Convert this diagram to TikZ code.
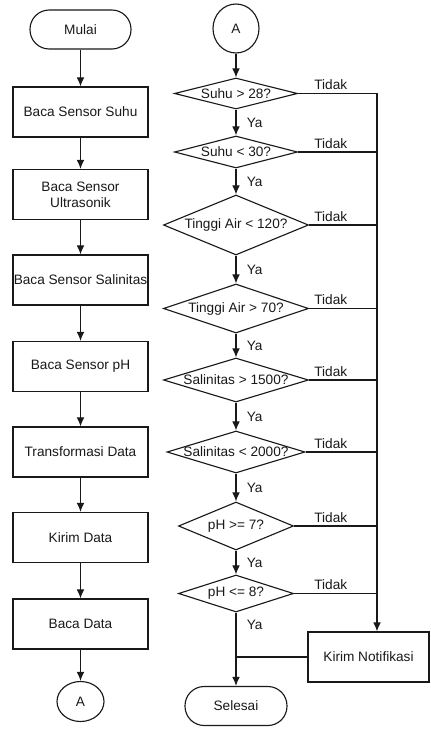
\documentclass[tikz,border=0pt]{standalone}
\usepackage{fontspec}
\setmainfont{Liberation Sans}
\usetikzlibrary{arrows, arrows.meta}
\usetikzlibrary{shapes.geometric}

\newcommand{\cond}[1]{\makebox[0pt]{#1}}

\begin{document}
\begin{tikzpicture}[x=0.025cm, y=-0.025cm, font=\fontsize{9.7}{11.6}\selectfont, text=black!80, color=black!90, line width=0.8pt,
  proc/.style={draw, rectangle, minimum width=3.375cm, minimum height=1.25cm, align=center, inner sep=0pt},
  term/.style={draw, rectangle, rounded corners=0.48cm, minimum width=#1*0.025cm, minimum height=0.975cm},
  conn/.style 2 args={draw, ellipse, minimum width=#1*0.025cm, minimum height=#2*0.025cm, inner sep=0pt},
  decision/.style 2 args={draw, diamond, minimum width=#1*0.025cm, minimum height=#2*0.025cm, inner sep=0pt},
  flow/.style={-{Latex[length=6.5pt, width=5.5pt]}},
  ya/.style={right, xshift=4pt},
  tidak/.style={anchor=south west, inner sep=2pt}]

\useasboundingbox (0,0) rectangle (431,730);

% left column
\node[term=101] (mulai) at (80.5,29.5) {Mulai};
\node[proc] (suhu) at (80.5,112) {Baca Sensor Suhu};
\node[proc] (ultra) at (80.5,194.5) {Baca Sensor\\Ultrasonik};
\node[proc] (salin) at (80.5,280) {Baca Sensor Salinitas};
\node[proc] (ph) at (80.5,366.5) {Baca Sensor pH};
\node[proc] (trans) at (80.5,452) {Transformasi Data};
\node[proc] (kirim) at (80.5,537.5) {Kirim Data};
\node[proc] (baca) at (80.5,624) {Baca Data};
\node[conn={47}{40}] (a1) at (80.5,701.5) {A};

\foreach \a/\b in {mulai/suhu, suhu/ultra, ultra/salin, salin/ph, ph/trans, trans/kirim, kirim/baca, baca/a1}
  \draw[flow] (\a) -- (\b);

% right column
\node[conn={46}{49}] (a2) at (236,28.5) {A};
\node[decision={123}{31}] (d1) at (236,93.5) {\cond{Suhu > 28?}};
\node[decision={123}{32}] (d2) at (236,152) {\cond{Suhu < 30?}};
\node[decision={145}{60}] (d3) at (236,225) {\cond{Tinggi Air < 120?}};
\node[decision={145}{49}] (d4) at (236,308.5) {\cond{Tinggi Air > 70?}};
\node[decision={145}{44}] (d5) at (236,380) {\cond{Salinitas > 1500?}};
\node[decision={138}{42}] (d6) at (236,452) {\cond{Salinitas < 2000?}};
\node[decision={115}{48}] (d7) at (236,526) {\cond{pH >= 7?}};
\node[decision={115}{37}] (d8) at (236,593.5) {\cond{pH <= 8?}};
\node[proc, minimum width=3.025cm] (notif) at (368.5,657) {Kirim Notifikasi};
\node[term=102] (selesai) at (236,706) {Selesai};

\draw[flow] (a2) -- (d1);
\foreach \a/\b in {d1/d2, d2/d3, d3/d4, d4/d5, d5/d6, d6/d7, d7/d8}
  \draw[flow] (\a) -- node[ya] (ya\a) {Ya} (\b);
\draw[flow] (d8) -- node[ya, pos=0.17] (yad8) {Ya} (selesai);

\coordinate (railx) at (377,0);
\coordinate (tidakx) at (311,0);
\draw[flow] (d1.east) -- (d1.east -| railx) -- (notif.north -| railx);
\foreach \i in {2,...,8}
  \draw (d\i.east) -- (d\i.east -| railx);
\foreach \i in {1,...,8}
  \node[tidak] (t\i) at (d\i.east -| tidakx) {Tidak};
\draw (notif.west) -- (notif.west -| selesai.north);

\end{tikzpicture}
\end{document}
